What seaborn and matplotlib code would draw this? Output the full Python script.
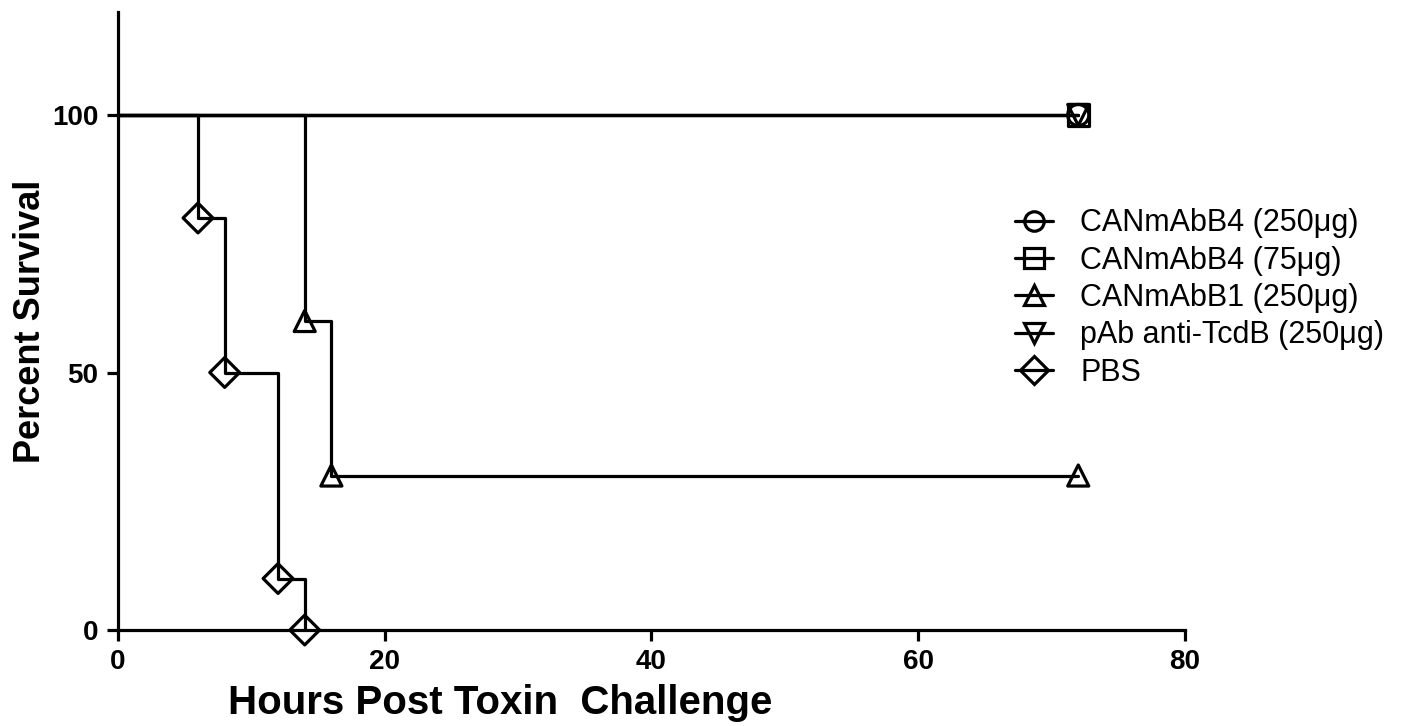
import pandas as pd
import matplotlib
matplotlib.use('Agg')
import matplotlib.pyplot as plt
from matplotlib.lines import Line2D
import seaborn as sns

# survival curves (hours, percent survival)
groups = ['CANmAbB4 (250\u03bcg)', 'CANmAbB4 (75\u03bcg)', 'CANmAbB1 (250\u03bcg)',
          'pAb anti-TcdB (250\u03bcg)', 'PBS']
hours_b4_250 = [0, 72]
surv_b4_250 = [100, 100]
hours_b4_75 = [0, 72]
surv_b4_75 = [100, 100]
hours_b1 = [0, 14, 16, 72]
surv_b1 = [100, 60, 30, 30]
hours_pab = [0, 72]
surv_pab = [100, 100]
hours_pbs = [0, 6, 8, 12, 14]
surv_pbs = [100, 80, 50, 10, 0]

x_ticks = [0, 20, 40, 60, 80]
y_ticks = [0, 50, 100]

markers = {groups[0]: 'o', groups[1]: 's', groups[2]: '^', groups[3]: 'v', groups[4]: 'D'}

rows = []
for g, hs, ss in zip(groups,
                     [hours_b4_250, hours_b4_75, hours_b1, hours_pab, hours_pbs],
                     [surv_b4_250, surv_b4_75, surv_b1, surv_pab, surv_pbs]):
    for h, s in zip(hs, ss):
        rows.append({'group': g, 'hours': h, 'survival': s})
df = pd.DataFrame(rows)

sns.set_style('ticks')
plt.rcParams['font.family'] = ['Liberation Sans', 'DejaVu Sans']

fig = plt.figure(figsize=(14.08, 7.26), dpi=100)
ax = fig.add_axes([0.0838, 0.1322, 0.7578, 0.8513])

lw = 2.3
for g in groups:
    sub = df[df.group == g]
    sns.lineplot(data=sub, x='hours', y='survival', ax=ax, color='black',
                 estimator=None, drawstyle='steps-post', linewidth=lw, legend=False)

pts = df[df.hours > 0]
sns.scatterplot(data=pts, x='hours', y='survival', style='group', markers=markers,
                style_order=groups, ax=ax, s=230, color='black', edgecolor='black',
                linewidth=lw, legend=False, zorder=3, clip_on=False)
# hollow markers, the step line shows through them
ax.collections[-1].set_facecolor('none')
ax.collections[-1].set_edgecolor('black')

ax.set_xlim(0, 80)
ax.set_ylim(0, 120)
ax.set_xticks(x_ticks)
ax.set_yticks(y_ticks)
sns.despine(ax=ax)
for sp in ['left', 'bottom']:
    ax.spines[sp].set_linewidth(2.3)
    ax.spines[sp].set_color('black')
ax.tick_params(width=2.3, length=8, labelsize=20, pad=6, color='black', labelcolor='black')
for lab in ax.get_xticklabels() + ax.get_yticklabels():
    lab.set_fontweight('bold')

ax.set_xlabel('Hours Post Toxin  Challenge', fontsize=29, fontweight='bold', color='black')
ax.xaxis.set_label_coords(0.358, -0.088)
ax.set_ylabel('Percent Survival', fontsize=26, fontweight='bold', color='black')
ax.yaxis.set_label_coords(-0.066, 0.5)

handles = [Line2D([], [], color='black', lw=lw, marker=markers[g], markersize=14,
                  markerfacecolor='none', markeredgecolor='black', markeredgewidth=lw)
           for g in groups]
fig.legend(handles, groups, loc='upper left', bbox_to_anchor=(0.712, 0.73),
           frameon=False, fontsize=22, handlelength=1.25, handletextpad=0.9,
           labelspacing=0.24, borderaxespad=0, labelcolor='black')

fig.savefig('out.png', dpi=100)
